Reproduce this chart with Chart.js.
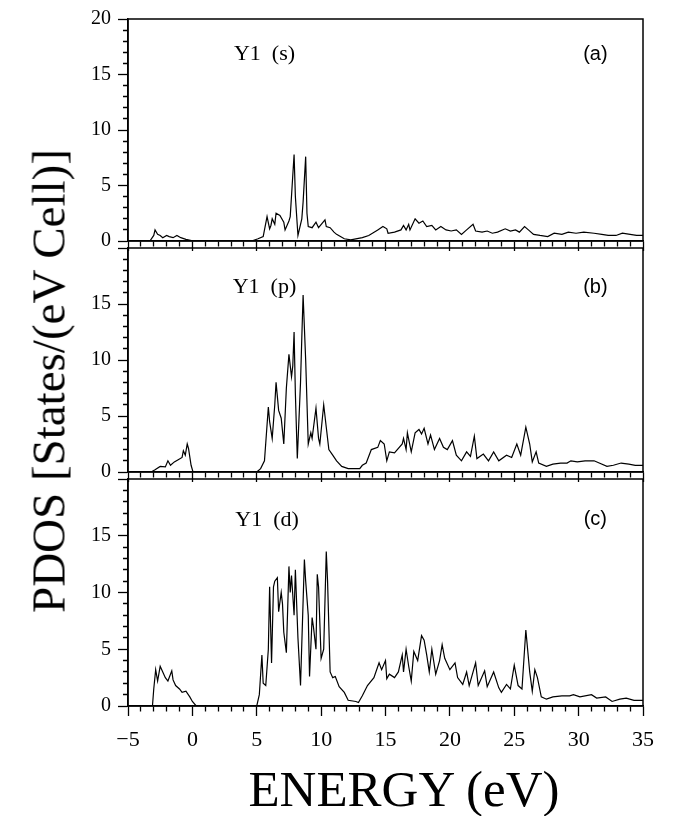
<!DOCTYPE html>
<html>
<head>
<meta charset="utf-8">
<script src="https://cdn.jsdelivr.net/npm/chart.js@4.4.1/dist/chart.umd.min.js"></script>
<style>
    html, body { margin: 0; padding: 0; background: #fff; overflow: hidden; }
    #wrap { position: relative; width: 673px; height: 816px; }
    #wrap canvas { position: absolute; left: 0; }
    .ytitle {
        position: absolute; left: 49px; top: 381px;
        font: 47px "Liberation Serif", serif; color: #000; white-space: nowrap; line-height: 1;
        transform: translate(-50%, -50%) rotate(-90deg);
    }
    .xtitle {
        position: absolute; left: 404px; top: 789px;
        font: 51px "Liberation Serif", serif; color: #000; white-space: nowrap; line-height: 1;
        transform: translate(-50%, -50%);
    }
</style>
</head>
<body>
<div id="wrap">
    <canvas id="panelS" width="673" height="260" style="top:0px"></canvas>
    <canvas id="panelP" width="673" height="262" style="top:229px"></canvas>
    <canvas id="panelD" width="673" height="300" style="top:460px"></canvas>
    <div class="ytitle">PDOS [States/(eV Cell)]</div>
    <div class="xtitle">ENERGY (eV)</div>
</div>
<script>
// Eixo de energia e ticks
const xTickValues = [-5, 0, 5, 10, 15, 20, 25, 30, 35];
const xTickText = ['\u22125', '0', '5', '10', '15', '20', '25', '30', '35'];
const yTickValues = [0, 5, 10, 15, 20];

// Y1 (s)
const eS = [-5, -3.3, -3.0, -2.9, -2.7, -2.5, -2.3, -2.0, -1.8, -1.5, -1.2, -0.9, -0.5, 0.1,
    4.6, 5.1, 5.5, 5.8, 6.0, 6.1, 6.2, 6.4, 6.5, 6.8, 7.1, 7.2, 7.5, 7.6, 7.75, 7.9, 8.0, 8.2,
    8.5, 8.6, 8.8, 8.9, 9.0, 9.3, 9.6, 9.8, 10.3, 10.4, 10.7, 11.0, 11.2, 11.8, 12.3, 13.2, 13.7,
    14.4, 14.8, 15.1, 15.2, 15.7, 16.2, 16.4, 16.6, 16.8, 16.9, 17.3, 17.6, 17.9, 18.2, 18.6,
    18.9, 19.3, 19.7, 20.1, 20.5, 20.9, 21.3, 21.8, 22.0, 22.5, 22.9, 23.3, 23.7, 24.3, 24.7,
    25.1, 25.4, 25.8, 26.1, 26.5, 27.0, 27.6, 28.1, 28.7, 29.2, 29.8, 30.4, 31.2, 31.8, 32.3,
    32.9, 33.4, 34.0, 34.5, 35];
const dosS = [0, 0, 0.5, 1.0, 0.6, 0.5, 0.3, 0.5, 0.4, 0.3, 0.5, 0.3, 0.15, 0,
    0, 0.2, 0.4, 2.2, 1.1, 1.4, 2.0, 1.5, 2.5, 2.3, 1.7, 1.0, 1.8, 2.2, 5.0, 7.8, 4.0, 0.5,
    2.0, 3.5, 7.6, 2.5, 1.3, 1.2, 1.7, 1.2, 1.9, 1.3, 1.2, 0.8, 0.6, 0.2, 0.1, 0.3, 0.5,
    1.0, 1.3, 1.1, 0.7, 0.8, 1.0, 1.4, 1.0, 1.5, 1.0, 2.0, 1.6, 1.8, 1.3, 1.4,
    1.0, 1.3, 1.0, 0.9, 1.0, 0.6, 1.0, 1.5, 0.9, 0.8, 0.9, 0.7, 0.8, 1.1, 0.9,
    1.0, 0.8, 1.3, 1.0, 0.6, 0.5, 0.4, 0.7, 0.6, 0.8, 0.7, 0.8, 0.7, 0.6, 0.5,
    0.5, 0.7, 0.6, 0.5, 0.5];

// Y1 (p)
const eP = [-5, -3.2, -2.9, -2.5, -2.1, -1.9, -1.7, -1.4, -1.1, -0.8, -0.7, -0.55, -0.4, -0.3, -0.1, 0.05,
    5.0, 5.3, 5.6, 5.9, 6.0, 6.2, 6.4, 6.5, 6.7, 6.9, 7.1, 7.3, 7.5, 7.7, 7.8, 7.9, 8.0, 8.15,
    8.4, 8.5, 8.6, 8.8, 9.0, 9.2, 9.3, 9.6, 9.8, 9.9, 10.2, 10.4, 10.6, 10.9, 11.2, 11.6, 12.1,
    13.0, 13.2, 13.5, 13.9, 14.4, 14.6, 14.9, 15.1, 15.3, 15.7, 16.3, 16.4, 16.6, 16.7, 17.0,
    17.3, 17.6, 17.8, 18.0, 18.3, 18.5, 18.8, 19.2, 19.5, 19.8, 20.2, 20.5, 20.9, 21.3, 21.6,
    21.9, 22.1, 22.6, 23.0, 23.4, 23.8, 24.4, 24.8, 25.2, 25.5, 25.9, 26.2, 26.4, 26.7, 26.9,
    27.5, 28.0, 28.6, 29.1, 29.4, 29.9, 30.5, 31.2, 31.6, 32.2, 32.7, 33.3, 33.9, 34.4, 35];
const dosP = [0, 0, 0.2, 0.5, 0.45, 1.0, 0.6, 0.9, 1.1, 1.3, 1.9, 1.5, 2.5, 2.1, 0.6, 0,
    0, 0.3, 1.0, 5.8, 4.5, 3.0, 6.0, 8.0, 5.5, 4.8, 2.5, 7.5, 10.5, 8.5, 9.5, 12.5, 7.0, 1.2,
    8.0, 12.0, 15.8, 10.0, 2.5, 3.5, 3.0, 5.7, 3.0, 2.5, 6.0, 4.0, 2.0, 1.5, 1.0, 0.5, 0.3,
    0.3, 0.6, 0.8, 2.0, 2.2, 2.8, 2.5, 1.0, 1.8, 1.7, 2.5, 3.0, 2.0, 3.5, 1.8,
    3.5, 3.8, 3.4, 3.9, 2.5, 3.3, 2.0, 3.0, 2.2, 2.0, 2.8, 1.5, 1.0, 1.8, 1.4,
    3.2, 1.2, 1.6, 1.0, 1.8, 1.0, 1.5, 1.3, 2.5, 1.5, 4.0, 2.5, 0.9, 1.8, 0.8,
    0.5, 0.7, 0.8, 0.8, 1.0, 0.9, 1.0, 1.0, 0.8, 0.5, 0.6, 0.8, 0.7, 0.6, 0.6];

// Y1 (d)
const eD = [-5, -3.1, -3.0, -2.85, -2.7, -2.5, -2.3, -2.1, -1.9, -1.6, -1.5, -1.3, -1.0, -0.8, -0.5, -0.2, 0.0, 0.3,
    5.0, 5.2, 5.4, 5.5, 5.7, 5.9, 6.0, 6.15, 6.3, 6.4, 6.6, 6.7, 6.9, 7.0, 7.1, 7.3, 7.5, 7.6,
    7.7, 7.9, 8.0, 8.2, 8.4, 8.7, 8.8, 9.0, 9.1, 9.3, 9.4, 9.6, 9.7, 9.8, 10.0, 10.2, 10.4, 10.5,
    10.7, 10.9, 11.1, 11.4, 11.8, 12.1, 12.7, 12.9, 13.2, 13.6, 14.1, 14.5, 14.7, 15.0, 15.1,
    15.3, 15.7, 16.0, 16.3, 16.4, 16.6, 16.8, 17.0, 17.2, 17.5, 17.8, 18.0, 18.2, 18.4, 18.6,
    18.9, 19.2, 19.4, 19.6, 20.0, 20.4, 20.6, 21.0, 21.3, 21.5, 22.0, 22.2, 22.7, 22.9, 23.4,
    23.8, 24.0, 24.4, 24.7, 25.0, 25.3, 25.6, 25.9, 26.2, 26.4, 26.6, 26.8, 27.1, 27.5, 28.0,
    28.7, 29.3, 29.6, 30.1, 31.0, 31.4, 32.1, 32.6, 33.2, 33.7, 34.3, 35];
const dosD = [0, 0, 1.5, 3.2, 2.2, 3.5, 3.0, 2.5, 2.2, 3.1, 2.3, 1.8, 1.5, 1.2, 1.3, 0.8, 0.4, 0,
    0, 1.0, 4.5, 2.0, 1.8, 5.0, 10.5, 3.8, 10.5, 11.0, 11.3, 8.3, 10.0, 9.0, 6.5, 4.7, 12.3, 10.0,
    11.5, 8.0, 12.0, 6.0, 1.8, 12.9, 11.0, 8.0, 2.6, 7.8, 7.0, 5.0, 11.6, 10.5, 4.2, 5.0, 13.6, 11.0,
    3.0, 2.5, 2.6, 1.7, 1.2, 0.5, 0.4, 0.3, 0.9, 1.8, 2.5, 3.8, 3.2, 4.0, 2.4,
    2.8, 2.5, 3.0, 4.5, 3.0, 5.0, 3.5, 2.2, 4.8, 4.0, 6.2, 5.8, 4.5, 3.0, 5.0,
    2.8, 4.0, 5.4, 4.2, 3.2, 3.8, 2.5, 1.9, 3.0, 1.8, 3.8, 1.8, 3.1, 1.7, 3.0,
    1.6, 1.2, 1.9, 1.5, 3.6, 1.8, 1.5, 6.7, 3.0, 1.3, 3.2, 2.5, 0.8, 0.6, 0.8,
    0.9, 0.9, 1.0, 0.8, 1.0, 0.7, 0.8, 0.4, 0.6, 0.7, 0.5, 0.5];

const serif = 'Liberation Serif';

// moldura do painel (topo e direita)
const framePlugin = {
    id: 'frame',
    afterDraw(chart) {
        const { ctx, chartArea: a } = chart;
        ctx.save();
        ctx.strokeStyle = '#000';
        ctx.lineWidth = 1.5;
        ctx.strokeRect(a.left, a.top, a.right - a.left, a.bottom - a.top);
        ctx.restore();
    }
};

// rótulos Y1 (x) e (a)/(b)/(c)
const labelPlugin = {
    id: 'panelLabels',
    afterDraw(chart, args, opts) {
        const { ctx, scales: { x, y } } = chart;
        ctx.save();
        ctx.fillStyle = '#000';
        ctx.textBaseline = 'middle';
        ctx.textAlign = 'center';
        ctx.font = '22px "' + serif + '"';
        ctx.fillText(opts.name, x.getPixelForValue(opts.nameAt[0]), y.getPixelForValue(opts.nameAt[1]));
        ctx.font = '20px "Liberation Sans"';
        ctx.fillText(opts.tag, x.getPixelForValue(opts.tagAt[0]), y.getPixelForValue(opts.tagAt[1]));
        ctx.restore();
    }
};

const isMinor = v => Math.abs(v % 5) > 1e-6;

function makePanel(id, energies, dos, cfg) {
    const points = energies.map((e, i) => ({ x: e, y: dos[i] }));
    return new Chart(document.getElementById(id).getContext('2d'), {
        type: 'line',
        data: {
            datasets: [{
                data: points,
                borderColor: '#000',
                borderWidth: 1.2,
                pointRadius: 0,
                tension: 0,
                fill: false
            }]
        },
        options: {
            responsive: false,
            animation: false,
            layout: { padding: { left: 0, right: 30, top: 15, bottom: 0 } },
            plugins: {
                legend: { display: false },
                tooltip: { enabled: false },
                panelLabels: cfg.labels
            },
            scales: {
                x: {
                    type: 'linear', min: -5, max: 35,
                    border: { color: '#000', width: 1.5 },
                    grid: {
                        drawOnChartArea: false, tickLength: 10, tickColor: '#000', tickWidth: 1.3,
                        tickBorderDash: c => (c.tick && isMinor(c.tick.value)) ? [5, 20] : []
                    },
                    ticks: {
                        display: cfg.showX, stepSize: 1, maxTicksLimit: 100, autoSkip: false,
                        maxRotation: 0, padding: 11, color: '#000',
                        font: { family: serif, size: 22 },
                        callback: v => {
                            const i = xTickValues.indexOf(v);
                            return i >= 0 ? xTickText[i] : '';
                        }
                    },
                    afterFit: s => { s.height = cfg.xHeight; }
                },
                y: {
                    type: 'linear', min: 0, max: 20,
                    border: { color: '#000', width: 1.5 },
                    grid: {
                        drawOnChartArea: false, tickLength: 10, tickColor: '#000', tickWidth: 1.3,
                        tickBorderDash: c => (c.tick && isMinor(c.tick.value)) ? [0, 5, 5] : []
                    },
                    ticks: {
                        stepSize: 1, maxTicksLimit: 100, autoSkip: false, padding: 7, color: '#000',
                        font: { family: serif, size: 20 },
                        callback: v => (yTickValues.includes(v) && (cfg.showTop || v < 20)) ? String(v) : ''
                    },
                    afterFit: s => { s.width = 128; }
                }
            }
        },
        plugins: [framePlugin, labelPlugin]
    });
}

makePanel('panelS', eS, dosS, {
    showX: false, showTop: true, xHeight: 16,
    labels: { name: 'Y1  (s)', nameAt: [5.6, 16.8], tag: '(a)', tagAt: [31.3, 16.8] }
});
makePanel('panelP', eP, dosP, {
    showX: false, showTop: false, xHeight: 16,
    labels: { name: 'Y1  (p)', nameAt: [5.6, 16.5], tag: '(b)', tagAt: [31.3, 16.5] }
});
makePanel('panelD', eD, dosD, {
    showX: true, showTop: false, xHeight: 54,
    labels: { name: 'Y1  (d)', nameAt: [5.8, 16.4], tag: '(c)', tagAt: [31.3, 16.4] }
});
</script>
</body>
</html>
